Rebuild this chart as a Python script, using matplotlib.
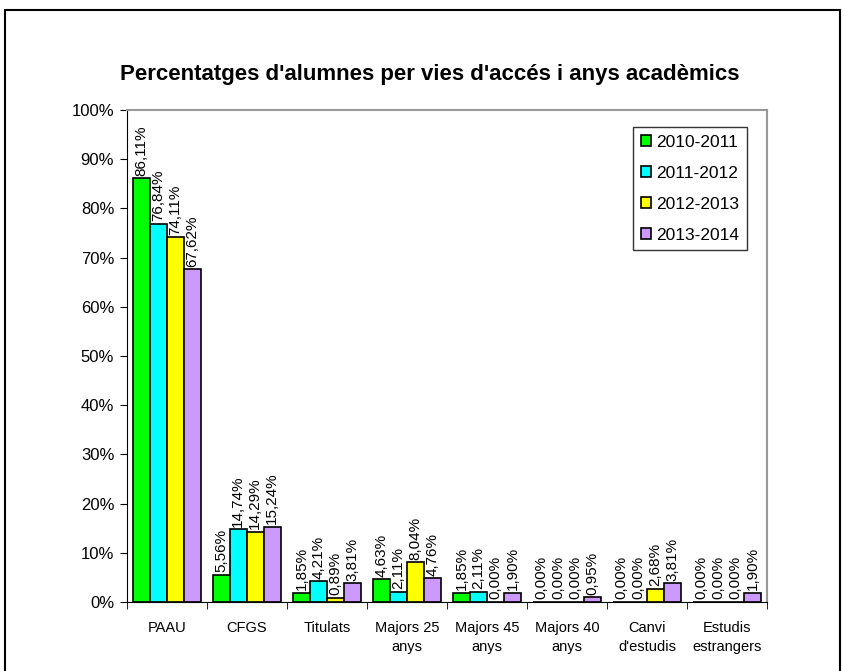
import numpy as np
import matplotlib.pyplot as plt
from matplotlib.patches import Rectangle

plt.rcParams['font.family'] = ['Liberation Sans', 'DejaVu Sans']

categories = ['PAAU', 'CFGS', 'Titulats', 'Majors 25\nanys', 'Majors 45\nanys',
              'Majors 40\nanys', 'Canvi\nd\'estudis', 'Estudis\nestrangers']
years = ['2010-2011', '2011-2012', '2012-2013', '2013-2014']
v2010 = [86.11, 5.56, 1.85, 4.63, 1.85, 0.00, 0.00, 0.00]
v2011 = [76.84, 14.74, 4.21, 2.11, 2.11, 0.00, 0.00, 0.00]
v2012 = [74.11, 14.29, 0.89, 8.04, 0.00, 0.00, 2.68, 0.00]
v2013 = [67.62, 15.24, 3.81, 4.76, 1.90, 0.95, 3.81, 1.90]
colors = ['#00FF00', '#00FFFF', '#FFFF00', '#CC99FF']

fig = plt.figure(figsize=(8.45, 6.71), dpi=100)
ax = fig.add_axes([0.150, 0.103, 0.758, 0.733])

# outer chart border
fig.patches.append(Rectangle((0.006, -0.05), 0.988, 1.035, transform=fig.transFigure,
                             fill=False, edgecolor='black', lw=1.5))

x = np.arange(len(categories))
w = 0.2125
for i, (vals, c, lab) in enumerate(zip([v2010, v2011, v2012, v2013], colors, years)):
    pos = x - 1.5 * w + i * w
    ax.bar(pos, vals, width=w, color=c, edgecolor='black', linewidth=1.2, label=lab)
    for p, v in zip(pos, vals):
        ax.text(p, v + 0.5, ('%.2f%%' % v).replace('.', ','), rotation=90,
                ha='center', va='bottom', fontsize=11)

ax.set_xlim(-0.5, len(categories) - 0.5)
ax.set_ylim(0, 100)
ax.set_yticks(np.arange(0, 101, 10))
ax.set_yticklabels(['%d%%' % t for t in range(0, 101, 10)], fontsize=12)
ax.set_xticks(x)
ax.set_xticklabels(categories, fontsize=10.5, linespacing=1.45)
ax.set_xticks(np.arange(-0.5, len(categories)), minor=True)
ax.tick_params(axis='x', which='major', length=0, pad=14)
ax.tick_params(axis='x', which='minor', length=5, direction='out')
ax.tick_params(axis='y', length=5, direction='out', pad=4)

ax.spines['top'].set_color('#999999')
ax.spines['right'].set_color('#999999')
ax.spines['top'].set_linewidth(1.5)
ax.spines['right'].set_linewidth(1.5)

fig.text(0.508, 0.889, "Percentatges d'alumnes per vies d'accés i anys acadèmics",
         fontsize=16, fontweight='bold', ha='center', va='center')

leg = ax.legend(loc='upper left', bbox_to_anchor=(0.749, 0.811),
                bbox_transform=fig.transFigure, borderaxespad=0, fontsize=12.5,
                fancybox=False, edgecolor='black', handlelength=0.6, handleheight=0.6,
                labelspacing=0.92, borderpad=0.45, handletextpad=0.3)
leg.get_frame().set_linewidth(1.0)

fig.savefig('out.png', dpi=100)
